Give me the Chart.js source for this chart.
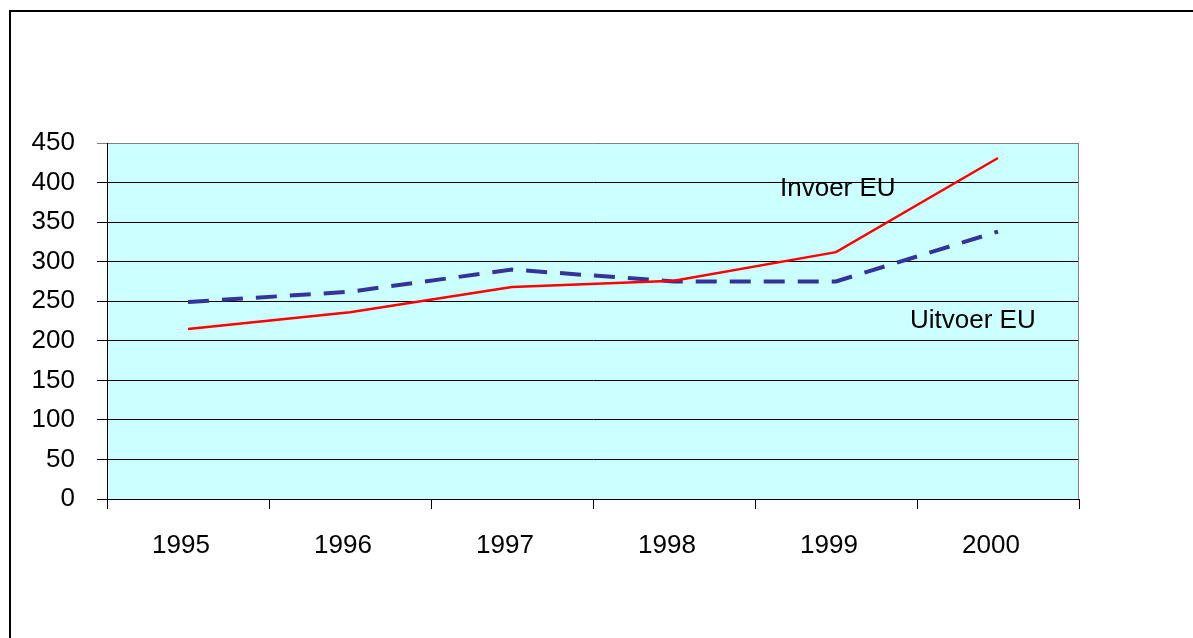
<!DOCTYPE html>
<html><head><meta charset="utf-8">
<script src="https://cdn.jsdelivr.net/npm/chart.js@4/dist/chart.umd.min.js"></script>
<style>
html,body{margin:0;padding:0;background:#fff;overflow:hidden}
#wrap{position:relative;width:1193px;height:638px;overflow:hidden}
#frame{position:absolute;left:9px;top:10px;width:1300px;height:700px;border:2px solid #000;box-sizing:border-box}
canvas{position:absolute;left:0;top:0}
</style></head><body>
<div id="wrap"><div id="frame"></div><canvas id="c" width="1193" height="638"></canvas></div>
<script>
const years = ['1995','1996','1997','1998','1999','2000'];
const invoerEU = [215,236,268,276,312,431];
const uitvoerEU = [249,262,290,275,275,338];
const seriesNames = ['Invoer EU','Uitvoer EU'];
const yMin = 0, yMax = 450, yStep = 50;

const FONT = {family:'"Liberation Sans", Arial, sans-serif', size:26};

const plotDeco = {
  id:'plotDeco',
  beforeDraw(chart){
    const {ctx, chartArea:a} = chart;
    ctx.save();
    ctx.fillStyle = '#CCFFFF';
    ctx.fillRect(a.left, a.top, a.right-a.left, a.bottom-a.top);
    ctx.restore();
  },
  beforeDatasetsDraw(chart){
    const {ctx, chartArea:a} = chart;
    ctx.save();
    ctx.strokeStyle = '#808080';
    ctx.lineWidth = 1;
    ctx.beginPath();
    ctx.moveTo(Math.round(a.right)-0.5, a.top);
    ctx.lineTo(Math.round(a.right)-0.5, a.bottom);
    ctx.stroke();
    ctx.restore();
  },
  afterDatasetsDraw(chart){
    const {ctx} = chart;
    ctx.save();
    ctx.fillStyle = '#000';
    ctx.font = FONT.size + 'px ' + FONT.family;
    ctx.textAlign = 'left';
    ctx.textBaseline = 'middle';
    ctx.fillText(seriesNames[0], 780, 189);
    ctx.fillText(seriesNames[1], 910, 321);
    ctx.restore();
  }
};

new Chart(document.getElementById('c'), {
  type:'line',
  data:{
    labels: years,
    datasets:[
      {label:seriesNames[1], data:uitvoerEU, borderColor:'#333399', borderWidth:4, borderDash:[21,13], pointRadius:0, tension:0, fill:false, order:2},
      {label:seriesNames[0], data:invoerEU, borderColor:'#FF0000', borderWidth:2.5, pointRadius:0, tension:0, fill:false, order:1}
    ]
  },
  options:{
    responsive:false, animation:false, devicePixelRatio:1,
    layout:{padding:{left:0, top:143, right:114, bottom:0}},
    plugins:{legend:{display:false}, tooltip:{enabled:false}, title:{display:false}},
    scales:{
      x:{
        type:'category', offset:true,
        grid:{offset:true, drawOnChartArea:false, drawTicks:true, tickLength:10, color:'#000', lineWidth:1},
        border:{display:true, color:'#000', width:1},
        ticks:{font:FONT, color:'#000', padding:21, labelOffset:-7, maxRotation:0, autoSkip:false},
        afterFit(s){ s.height = 139; }
      },
      y:{
        min:yMin, max:yMax,
        grid:{color:(c)=> (c.tick && c.tick.value===yMax) ? '#808080' : '#000', lineWidth:1, tickLength:10, drawTicks:true},
        border:{display:true, color:'#000', width:1},
        ticks:{stepSize:yStep, font:FONT, color:'#000', padding:22},
        afterFit(s){ s.width = 107; }
      }
    }
  },
  plugins:[plotDeco]
});
</script>
</body></html>
